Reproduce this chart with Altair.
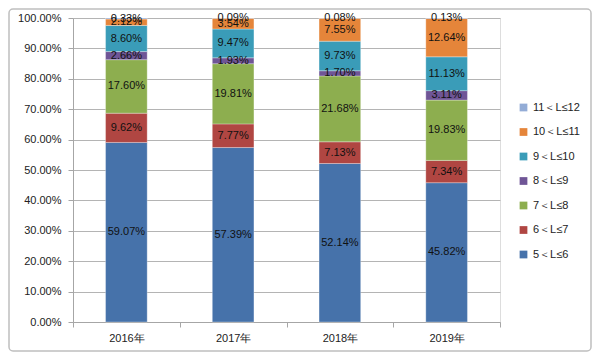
import altair as alt
import pandas as pd

years = ["2016年", "2017年", "2018年", "2019年"]
groups = ["5＜L≤6", "6＜L≤7", "7＜L≤8", "8＜L≤9", "9＜L≤10", "10＜L≤11", "11＜L≤12"]
colors = ["#4672AA", "#B04642", "#8DAE4F", "#6F5596", "#3A9CB8", "#E5853A", "#93ACD6"]

v_2016 = [59.07, 9.62, 17.60, 2.66, 8.60, 2.12, 0.33]
v_2017 = [57.39, 7.77, 19.81, 1.93, 9.47, 3.54, 0.09]
v_2018 = [52.14, 7.13, 21.68, 1.70, 9.73, 7.55, 0.08]
v_2019 = [45.82, 7.34, 19.83, 3.11, 11.13, 12.64, 0.13]

y_ticks = [0, 0.1, 0.2, 0.3, 0.4, 0.5, 0.6, 0.7, 0.8, 0.9, 1.0]

rows = []
for year, vals in zip(years, [v_2016, v_2017, v_2018, v_2019]):
    for i, (g, v) in enumerate(zip(groups, vals)):
        rows.append({"year": year, "group": g, "idx": i, "value": v / 100.0})
df = pd.DataFrame(rows)

FONT = "Liberation Sans"
W, H = 427, 304

base = alt.Chart(df).transform_stack(
    stack="value", groupby=["year"], as_=["y0", "y1"],
    sort=[alt.SortField("idx", order="ascending")]
).transform_calculate(
    ymid="(datum.y0 + datum.y1) / 2",
    label="format(datum.value, '.2%')"
)

yscale = alt.Scale(domain=[0, 1], nice=False)
yaxis = alt.Axis(values=y_ticks, format=".2%", tickSize=5, labelOverlap=False,
                 tickColor="#A6A6A6", domainColor="#A6A6A6",
                 gridColor="#B4B4B4", gridWidth=1,
                 labelFont=FONT, labelFontSize=11, labelColor="#222222",
                 labelPadding=7)

xscale = alt.Scale(paddingInner=0, paddingOuter=0)
xaxis = alt.Axis(labelAngle=0, tickBand="extent", tickSize=5,
                 tickColor="#A6A6A6", domainColor="#A6A6A6",
                 labelFont=FONT, labelFontSize=11, labelColor="#222222",
                 labelPadding=5, grid=False)

bars = base.mark_bar(width=alt.RelativeBandSize(0.39), stroke="#FFFFFF",
                     strokeWidth=0.6, strokeOpacity=0.5).encode(
    x=alt.X("year:N", sort=years, title=None, scale=xscale, axis=xaxis),
    y=alt.Y("y0:Q", title=None, scale=yscale, axis=yaxis),
    y2="y1:Q",
    color=alt.Color("group:N",
                    scale=alt.Scale(domain=groups[::-1], range=colors[::-1]),
                    legend=alt.Legend(title=None, orient="none", legendX=445, legendY=84,
                                      symbolType="square", symbolSize=60,
                                      symbolStrokeWidth=0, labelFont=FONT,
                                      labelFontSize=11, labelColor="#222222",
                                      labelOffset=4, rowPadding=12.5)),
)

labels = base.mark_text(font=FONT, fontSize=11, color="#111111").encode(
    x=alt.X("year:N", sort=years, title=None, scale=xscale, axis=xaxis),
    y=alt.Y("ymid:Q", title=None, scale=yscale, axis=yaxis),
    text="label:N",
)

border = alt.Chart(pd.DataFrame({"a": [0]})).mark_rect(
    fill=None, stroke="#BFBFBF", strokeWidth=1.5, cornerRadius=4
).encode(x=alt.value(-64), x2=alt.value(W + 91), y=alt.value(-9), y2=alt.value(H + 29))

chart = alt.layer(bars, labels, border).properties(
    width=W, height=H,
    autosize=alt.AutoSizeParams(type="none"),
    padding={"left": 65, "top": 10, "right": 92, "bottom": 30},
).configure_view(stroke=None).configure(background="white")

chart.save("out.html", embed_options={"renderer": "svg", "actions": False})
